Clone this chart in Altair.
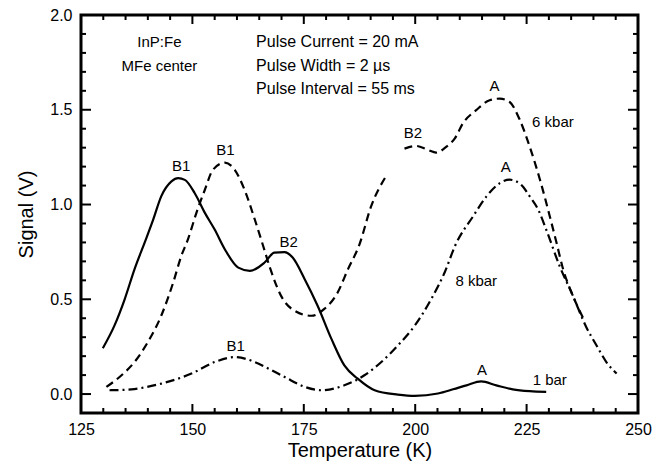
import altair as alt
import pandas as pd

# ---- data ----
solid_T = [129.9, 132.5, 134.8, 137.0, 139.3, 141.2, 143.0, 145.3, 146.8, 148.3, 150.5,
           152.8, 155.0, 157.3, 160.3, 162.9, 166.2, 168.4, 170.7, 172.5, 175.2, 178.1,
           181.2, 184.1, 187.1, 190.9, 196.1, 199.9, 205.1, 208.5, 211.5, 214.8, 218.2,
           221.9, 225.7, 229.4]
solid_V = [0.242, 0.361, 0.500, 0.658, 0.800, 0.920, 1.043, 1.122, 1.139, 1.130, 1.061,
           0.956, 0.868, 0.763, 0.667, 0.650, 0.694, 0.746, 0.749, 0.720, 0.606, 0.466,
           0.291, 0.151, 0.081, 0.020, -0.003, -0.010, 0.003, 0.025, 0.046, 0.067, 0.046,
           0.025, 0.015, 0.011]

# 6 kbar curve has a short break near 195 K in the reference
dashed_T = [130.7, 134.1, 137.0, 140.0, 143.0, 145.7, 147.5, 149.0, 150.9, 152.8, 154.6,
            157.3, 159.5, 161.7, 164.0, 165.9, 167.4, 169.9, 172.9, 176.7, 179.6, 182.6,
            184.9, 187.5, 190.1, 193.6,
            197.6, 200.2, 202.9, 204.7, 207.0, 208.9, 210.7,
            213.7, 216.7, 219.0, 221.2, 223.5, 225.7, 228.0, 230.2, 231.8, 233.2, 235.4,
            238.0]
dashed_V = [0.038, 0.099, 0.169, 0.274, 0.413, 0.589, 0.728, 0.816, 0.956, 1.078, 1.183,
            1.221, 1.183, 1.078, 0.921, 0.780, 0.667, 0.518, 0.440, 0.413, 0.449, 0.536,
            0.658, 0.790, 0.990, 1.155,
            1.295, 1.309, 1.288, 1.274, 1.305, 1.349, 1.428,
            1.498, 1.550, 1.559, 1.541, 1.445, 1.305, 1.131, 0.938, 0.790, 0.658, 0.518,
            0.387]
dashed_seg = [1] * 26 + [2] * 19

dashdot_T = [131.4, 136.3, 143.0, 149.8, 155.0, 159.5, 164.0, 167.0, 170.7, 175.2, 178.9,
             184.1, 188.6, 192.4, 196.1, 199.9, 203.6, 206.6, 209.0, 213.0, 216.0, 219.0,
             221.2, 223.8, 225.7, 227.6, 229.4, 232.4, 235.4, 238.4, 240.7, 242.9, 245.2]
dashdot_V = [0.020, 0.025, 0.055, 0.108, 0.169, 0.195, 0.169, 0.135, 0.090, 0.038, 0.020,
             0.046, 0.099, 0.169, 0.256, 0.361, 0.501, 0.641, 0.785, 0.938, 1.043, 1.113,
             1.131, 1.104, 1.043, 0.973, 0.868, 0.676, 0.518, 0.353, 0.256, 0.169, 0.108]

label_text = ["B1", "B1", "B2", "B1", "B2", "A", "6 kbar", "A", "8 kbar", "A", "1 bar",
              "InP:Fe", "MFe center"]
label_T = [147.5, 157.4, 171.6, 159.7, 199.5, 217.8, 230.9, 220.3, 213.7, 215.0, 230.2,
           142.6, 142.6]
label_V = [1.204, 1.288, 0.800, 0.256, 1.379, 1.625, 1.437, 1.197, 0.597, 0.129, 0.072,
           1.855, 1.733]

info_text = ["Pulse Current = 20 mA", "Pulse Width = 2 \u00b5s", "Pulse Interval = 55 ms"]
info_T = [164.3, 164.3, 164.3]
info_V = [1.855, 1.733, 1.609]

x_major = [125, 150, 175, 200, 225, 250]
x_minor = [130, 135, 140, 145, 155, 160, 165, 170, 180, 185, 190, 195,
           205, 210, 215, 220, 230, 235, 240, 245]
y_labels = [0.0, 0.5, 1.0, 1.5, 2.0]
y_major = [0.0, 0.5, 1.0, 1.5]
y_minor = [0.1, 0.2, 0.3, 0.4, 0.6, 0.7, 0.8, 0.9, 1.1, 1.2, 1.3,
           1.4, 1.6, 1.7, 1.8, 1.9]

FONT = "Liberation Sans"
W, H = 557, 398

xs = alt.Scale(domain=[125, 250], nice=False, zero=False)
ys = alt.Scale(domain=[-0.1, 2.0], nice=False, zero=False)

ax_x = alt.Axis(orient="bottom", values=x_major, format="d", ticks=False, domain=False,
                grid=False, labelPadding=8, labelFlush=False, title="Temperature (K)",
                titlePadding=3, labelFontSize=16, titleFontSize=20)
ax_y = alt.Axis(orient="left", values=y_labels, format=".1f", ticks=False, domain=False,
                grid=False, labelPadding=9, labelFlush=False, title="Signal (V)",
                titlePadding=13, labelFontSize=16, titleFontSize=20)


def frame(T, V):
    return pd.DataFrame({"T": T, "V": V})


solid = alt.Chart(frame(solid_T, solid_V)).mark_line(
    color="black", strokeWidth=2.2, interpolate="monotone"
).encode(
    x=alt.X("T:Q", scale=xs, axis=ax_x),
    y=alt.Y("V:Q", scale=ys, axis=ax_y),
)

dashed_df = frame(dashed_T, dashed_V)
dashed_df["seg"] = dashed_seg
dashed = alt.Chart(dashed_df).mark_line(
    color="black", strokeWidth=2.2, interpolate="monotone", strokeDash=[8, 5]
).encode(
    x=alt.X("T:Q", scale=xs, axis=None),
    y=alt.Y("V:Q", scale=ys, axis=None),
    detail="seg:N",
)

dashdot = alt.Chart(frame(dashdot_T, dashdot_V)).mark_line(
    color="black", strokeWidth=2.2, interpolate="monotone", strokeDash=[9, 4, 2, 4]
).encode(
    x=alt.X("T:Q", scale=xs, axis=None),
    y=alt.Y("V:Q", scale=ys, axis=None),
)

labels = alt.Chart(pd.DataFrame({"T": label_T, "V": label_V, "txt": label_text})).mark_text(
    font=FONT, fontSize=15, color="black", align="center", baseline="middle"
).encode(
    x=alt.X("T:Q", scale=xs, axis=None),
    y=alt.Y("V:Q", scale=ys, axis=None),
    text="txt:N",
)

info = alt.Chart(pd.DataFrame({"T": info_T, "V": info_V, "txt": info_text})).mark_text(
    font=FONT, fontSize=16, color="black", align="left", baseline="middle"
).encode(
    x=alt.X("T:Q", scale=xs, axis=None),
    y=alt.Y("V:Q", scale=ys, axis=None),
    text="txt:N",
)


# inward-pointing tick marks on all four sides (positions from the scales)
def xticks(vals, length):
    d = pd.DataFrame({"t": vals})
    bottom = alt.Chart(d).mark_rule(color="black", strokeWidth=2).encode(
        x=alt.X("t:Q", scale=xs, axis=None), y=alt.value(H), y2=alt.value(H - length))
    top = alt.Chart(d).mark_rule(color="black", strokeWidth=2).encode(
        x=alt.X("t:Q", scale=xs, axis=None), y=alt.value(0), y2=alt.value(length))
    return [bottom, top]


def yticks(vals, length):
    d = pd.DataFrame({"t": vals})
    left = alt.Chart(d).mark_rule(color="black", strokeWidth=2).encode(
        y=alt.Y("t:Q", scale=ys, axis=None), x=alt.value(0), x2=alt.value(length))
    right = alt.Chart(d).mark_rule(color="black", strokeWidth=2).encode(
        y=alt.Y("t:Q", scale=ys, axis=None), x=alt.value(W), x2=alt.value(W - length))
    return [left, right]


tick_layers = xticks(x_major, 9) + xticks(x_minor, 5) + yticks(y_major, 10) + yticks(y_minor, 5)

chart = alt.layer(solid, dashed, dashdot, labels, info, *tick_layers).resolve_axis(
    x="independent", y="independent"
).properties(
    width=W,
    height=H,
    autosize=alt.AutoSizeParams(type="none"),
    padding={"left": 81, "top": 15, "right": 27, "bottom": 56},
    background="white",
).configure_view(
    stroke="black", strokeWidth=3
).configure_axis(
    labelFont=FONT, titleFont=FONT, labelColor="black", titleColor="black",
    titleFontWeight="normal", grid=False
)

chart.save("out.html", embed_options={"renderer": "svg", "actions": False})
